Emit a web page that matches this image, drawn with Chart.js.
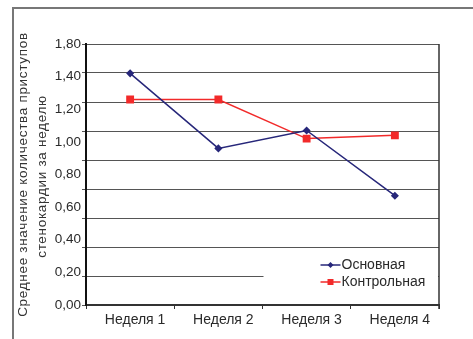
<!DOCTYPE html>
<html>
<head>
<meta charset="utf-8">
<script src="https://cdn.jsdelivr.net/npm/chart.js@4/dist/chart.umd.min.js"></script>
<style>
  body { margin: 0; background: #fff; }
  #wrap { position: relative; width: 473px; height: 339px; overflow: hidden; }
  #frame { position: absolute; left: 12px; top: 7px; width: 480px; height: 360px;
           border-left: 2px solid #777; border-top: 2px solid #777; }
  canvas { position: absolute; left: 0; top: 0; }
</style>
</head>
<body>
<div id="wrap">
  <div id="frame"></div>
  <canvas id="chart" width="473" height="339"></canvas>
</div>
<script>
// data
let categories = ["Неделя 1", "Неделя 2", "Неделя 3", "Неделя 4"];
let mainValues = [1.42, 0.96, 1.07, 0.67];
let controlValues = [1.26, 1.26, 1.02, 1.04];
let tickLabels = ["0,00", "0,20", "0,40", "0,60", "0,80", "1,00", "1,20", "1,40", "1,80"];
let seriesNames = ["Основная", "Контрольная"];
let axisTitle = ["Среднее значение количества приступов", "стенокардии за неделю"];

let blue = "#27277a";
let red = "#f22a2a";
let textColor = "#2a2a2a";
let font = "'Liberation Sans', Arial, sans-serif";

//legend box, y title and right border of the plot
let framePlugin = {
  id: "frame",
  afterDraw(chart) {
    let ctx = chart.ctx;
    let ca = chart.chartArea;
    ctx.save();

    // axis title, spaced out like the original
    let cy = (ca.top + ca.bottom) / 2;
    ctx.fillStyle = "#333";
    ctx.font = "13.5px " + font;
    ctx.textAlign = "center";
    ctx.textBaseline = "middle";
    ctx.letterSpacing = "0.7px";
    axisTitle.forEach(function (line, i) {
      ctx.save();
      ctx.translate(23 + i * 19, cy + i * 2);
      ctx.rotate(-Math.PI / 2);
      ctx.fillText(line, 0, 0);
      ctx.restore();
    });
    ctx.letterSpacing = "0px";

    let boxLeft = ca.left + ca.width / 2;
    ctx.fillStyle = "#fff";
    ctx.fillRect(boxLeft + 1, ca.bottom - 53, ca.right - boxLeft - 2, 48);

    let items = chart.data.datasets;
    items.forEach(function (ds, i) {
      let y = ca.bottom - 40 + i * 17;
      let x0 = boxLeft + 58;
      ctx.strokeStyle = ds.borderColor;
      ctx.lineWidth = 1.5;
      ctx.beginPath();
      ctx.moveTo(x0, y);
      ctx.lineTo(x0 + 20, y);
      ctx.stroke();
      ctx.fillStyle = ds.borderColor;
      let cx = x0 + 10;
      if (ds.pointStyle == "rect") {
        ctx.fillRect(cx - 3, y - 3, 6, 6);
      } else {
        ctx.beginPath();
        ctx.moveTo(cx, y - 3);
        ctx.lineTo(cx + 3, y);
        ctx.lineTo(cx, y + 3);
        ctx.lineTo(cx - 3, y);
        ctx.closePath();
        ctx.fill();
      }
      ctx.fillStyle = textColor;
      ctx.font = "14px " + font;
      ctx.textBaseline = "middle";
      ctx.textAlign = "left";
      ctx.fillText(ds.label, x0 + 21, y);
    });

    ctx.strokeStyle = "#333";
    ctx.lineWidth = 1.5;
    ctx.beginPath();
    ctx.moveTo(ca.right, ca.top);
    ctx.lineTo(ca.right, ca.bottom + 4);
    ctx.stroke();
    ctx.restore();
  }
};

let chart = new Chart(document.getElementById("chart"), {
  type: "line",
  data: {
    labels: categories,
    datasets: [
      {
        label: seriesNames[0],
        data: mainValues,
        yAxisID: "y2",
        borderColor: blue,
        backgroundColor: blue,
        borderWidth: 1.5,
        pointStyle: "rectRot",
        pointRadius: 3,
        tension: 0
      },
      {
        label: seriesNames[1],
        data: controlValues,
        yAxisID: "y2",
        borderColor: red,
        backgroundColor: red,
        borderWidth: 1.5,
        pointStyle: "rect",
        pointRadius: 4.5,
        tension: 0
      }
    ]
  },
  options: {
    responsive: false,
    animation: false,
    devicePixelRatio: 1,
    layout: { padding: { top: 44, right: 34, left: 0, bottom: 0 } },
    plugins: {
      legend: { display: false },
      tooltip: { enabled: false }
    },
    scales: {
      x: {
        offset: true,
        grid: { display: true, drawOnChartArea: false, drawTicks: true, tickLength: 4, color: "#333", offset: true },
        border: { color: "#333", width: 2 },
        ticks: { color: textColor, font: { family: font, size: 14 }, padding: 3, maxRotation: 0, labelOffset: 5 },
        afterFit(scale) { scale.height = 34; }
      },
      y: {
        position: "left",
        weight: 0,
        min: 0,
        max: 1.8,
        ticks: { display: false, stepSize: 0.2 },
        grid: { color: "#555", lineWidth: 1, tickLength: 4 },
        border: { color: "#111", width: 2 },
        afterFit(scale) { scale.width = 4; }
      },
      y2: {
        position: "left",
        weight: 1,
        min: 0,
        max: 1.6,
        grid: { display: false, drawTicks: false },
        border: { display: false },
        ticks: {
          stepSize: 0.2,
          padding: 1,
          color: textColor,
          font: { family: font, size: 13.5 },
          callback: function (value, index) { return tickLabels[index]; }
        },
        title: { display: false },
        afterFit(scale) { scale.width = 82; }
      }
    }
  },
  plugins: [framePlugin]
});
</script>
</body>
</html>
